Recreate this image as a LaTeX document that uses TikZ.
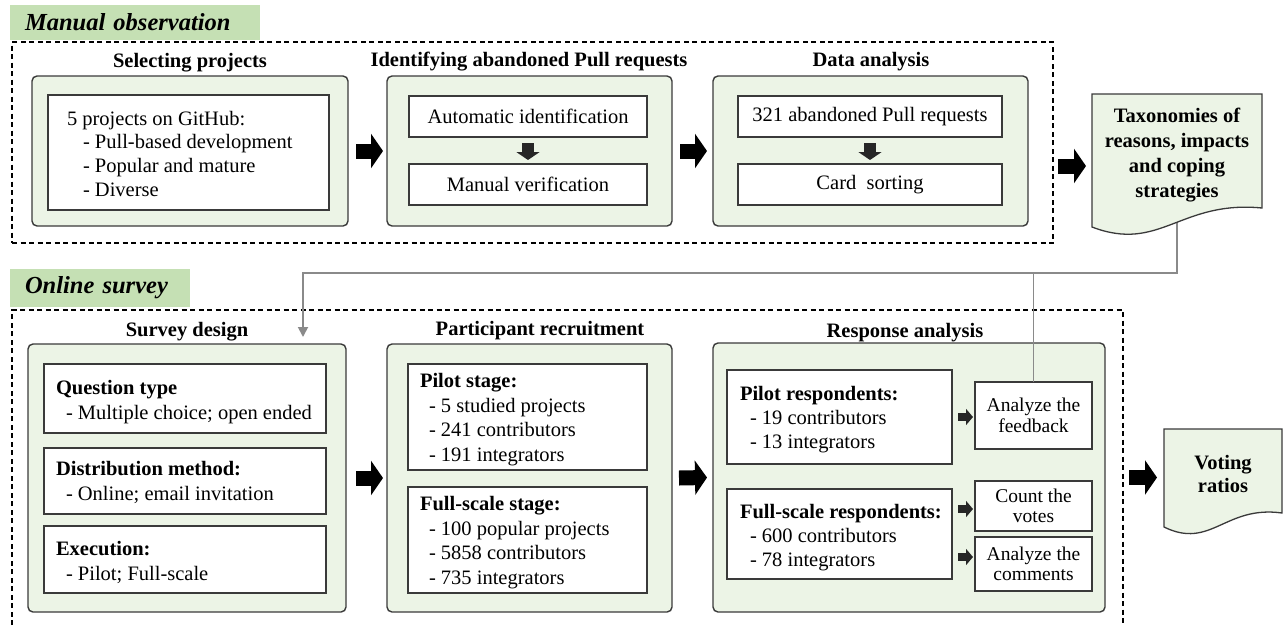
\documentclass[tikz,border=0pt]{standalone}
\usepackage{fontspec}
\setmainfont{Liberation Serif}
\usetikzlibrary{arrows.meta,calc}
\definecolor{labelgreen}{HTML}{C5E0B4}
\definecolor{panelfill}{HTML}{ECF4E6}
\definecolor{panelline}{HTML}{3A3A3A}
\definecolor{feedgray}{HTML}{8A8A8A}
\definecolor{smallarr}{HTML}{262626}
% fixed-height strut so the first baseline of a text block sits 16pt below its top
\newcommand{\firstline}{\rule{0pt}{16pt}}

\begin{document}
\begin{tikzpicture}[x=1pt,y=-1pt,
  every node/.style={inner sep=0pt, outer sep=0pt},
  body/.style={font=\fontsize{20.5}{24}\selectfont},
  head/.style={font=\bfseries\fontsize{20.5}{24}\selectfont},
  block/.style={anchor=north west, align=left},
  sect/.style={font=\bfseries\itshape\fontsize{24.5}{28}\selectfont,
    fill=labelgreen, anchor=north west, align=left, inner xsep=15pt},
  dashframe/.style={draw=black, line width=1.2pt, dash pattern=on 5pt off 3.5pt},
  panel/.style={draw=panelline, fill=panelfill, line width=1.4pt,
    rounded corners=5pt, anchor=north west},
  wbox/.style={draw=panelline, fill=white, line width=1.3pt, anchor=north west},
  bigarrow/.style={draw=black, line width=15pt, -{Triangle[length=12pt,width=34pt]}},
  smarr/.style={draw=smallarr, line width=8pt, -{Triangle[length=7pt,width=16pt]}},
  downarr/.style={draw=smallarr, line width=12pt, -{Triangle[length=8pt,width=23pt]}},
  feed/.style={draw=feedgray, line width=1.8pt},
  doc/.style={draw=panelline, fill=panelfill, line width=1.3pt},
]
\useasboundingbox (0,0) rectangle (1283,625);

% ---------------- Manual observation ----------------
\node[sect, text width=220pt, minimum height=35pt] (lblA) at (10,5) {Manual observation};
\node[dashframe, anchor=north west, minimum width=1041pt, minimum height=201pt] (mo) at (12,42) {};

\node[panel, minimum width=316pt, minimum height=150pt] (sel) at (32,76) {};
\node[panel, minimum width=285pt, minimum height=150pt] (ident) at (387,76) {};
\node[panel, minimum width=315pt, minimum height=150pt] (data) at (713,76) {};

\node[head] (selT) at (190,63) {Selecting projects};
\node[head] (identT) at (529,62) {Identifying abandoned Pull requests};
\node[head] (dataT) at (871,62) {Data analysis};

\node[wbox, minimum width=281pt, minimum height=115pt] (sp) at (48,95) {};
\node[body, block, font=\fontsize{20.5}{23.7}\selectfont] (sptxt) at (67,109)
  {\firstline 5 projects on GitHub:\\\hspace*{16pt}- Pull-based development\\\hspace*{16pt}- Popular and mature\\\hspace*{16pt}- Diverse};

\node[wbox, body, minimum width=238pt, minimum height=41pt] (auto) at (409,96) {Automatic identification};
\node[wbox, body, minimum width=238pt, minimum height=41pt] (manu) at (409,164) {Manual verification};
\node[wbox, body, minimum width=264pt, minimum height=41pt] (n321) at (738,96) {321 abandoned Pull requests};
\node[wbox, body, minimum width=264pt, minimum height=41pt] (card) at (738,164) {Card~ sorting};

\draw[downarr] ($(auto.south)+(0,6)$) -- ($(manu.north)+(0,-4)$);
\draw[downarr] ($(n321.south)+(0,6)$) -- ($(card.north)+(0,-4)$);

\draw[bigarrow] ($(sel.east)+(8,0)$) -- ($(ident.west)+(-4,0)$);
\draw[bigarrow] ($(ident.east)+(8,0)$) -- ($(data.west)+(-6,0)$);

% ---------------- Online survey ----------------
\node[sect, text width=150pt, minimum height=38pt] (lblB) at (10,269) {Online survey};
\draw[dashframe] (12,625) -- (12,310) -- (1123,310) -- (1123,625);

\node[panel, minimum width=318pt, minimum height=268pt] (sd) at (28,344) {};
\node[panel, minimum width=285pt, minimum height=268pt] (pr) at (387,344) {};
\node[panel, minimum width=392pt, minimum height=269pt] (ra) at (713,343) {};

\node[head] (sdT) at (187,332) {Survey design};
\node[head] (prT) at (540,331) {Participant recruitment};
\node[head] (raT) at (905,333) {Response analysis};

% survey design
\node[wbox, minimum width=282pt, minimum height=69pt] (qt) at (44,364) {};
\node[wbox, minimum width=282pt, minimum height=66pt] (dm) at (44,448) {};
\node[wbox, minimum width=282pt, minimum height=67pt] (ex) at (44,526) {};
\node[body, block, font=\fontsize{20.5}{25.5}\selectfont] (qttxt) at (56,378)
  {\firstline\textbf{Question type}\\\hspace*{10pt}- Multiple choice; open ended};
\node[body, block, font=\fontsize{20.5}{25.5}\selectfont] (dmtxt) at (56,459)
  {\firstline\textbf{Distribution method:}\\\hspace*{10pt}- Online; email invitation};
\node[body, block, font=\fontsize{20.5}{25}\selectfont] (extxt) at (56,539)
  {\firstline\textbf{Execution:}\\\hspace*{10pt}- Pilot; Full-scale};

% participant recruitment
\node[wbox, minimum width=239pt, minimum height=106pt] (ps) at (408,364) {};
\node[wbox, minimum width=239pt, minimum height=106pt] (fs) at (408,487) {};
\node[body, block, font=\fontsize{20.5}{24.7}\selectfont] (pstxt) at (420,371.5)
  {\firstline\textbf{Pilot stage:}\\\hspace*{9pt}- 5 studied projects\\\hspace*{9pt}- 241 contributors\\\hspace*{9pt}- 191 integrators};
\node[body, block, font=\fontsize{20.5}{24.7}\selectfont] (fstxt) at (420,494.5)
  {\firstline\textbf{Full-scale stage:}\\\hspace*{9pt}- 100 popular projects\\\hspace*{9pt}- 5858 contributors\\\hspace*{9pt}- 735 integrators};

% response analysis
\node[wbox, minimum width=225pt, minimum height=94pt] (pil) at (727,370) {};
\node[wbox, minimum width=225pt, minimum height=90pt] (full) at (727,489) {};
\node[body, block] (piltxt) at (740,384)
  {\firstline\textbf{Pilot respondents:}\\\hspace*{10pt}- 19 contributors\\\hspace*{10pt}- 13 integrators};
\node[body, block] (fulltxt) at (740,502)
  {\firstline\textbf{Full-scale respondents:}\\\hspace*{10pt}- 600 contributors\\\hspace*{10pt}- 78 integrators};

\node[wbox, align=center, font=\fontsize{19.5}{20.5}\selectfont, minimum width=117pt, minimum height=67pt] (fbk) at (975,382) {Analyze the\\feedback};
\node[wbox, align=center, font=\fontsize{19.5}{20.5}\selectfont, minimum width=117pt, minimum height=50pt] (cnt) at (975,481) {Count the\\votes};
\node[wbox, align=center, font=\fontsize{19.5}{20.5}\selectfont, minimum width=117pt, minimum height=54pt] (com) at (975,537) {Analyze the\\comments};

\draw[smarr] ($(pil.east)+(6,0)$) -- ($(fbk.west |- pil.east)+(-2,0)$);
\draw[smarr] ($(full.east |- 0,509)+(6,0)$) -- ($(cnt.west |- 0,509)+(-2,0)$);
\draw[smarr] ($(full.east |- 0,557)+(6,0)$) -- ($(com.west |- 0,557)+(-2,0)$);

\draw[bigarrow] ($(sd.east)+(10,0)$) -- ($(pr.west)+(-4,0)$);
\draw[bigarrow] ($(pr.east)+(7,0)$) -- ($(ra.west)+(-6,0)$);

% ---------------- outputs and feedback ----------------
\coordinate (taxc) at (1177,155.5);
\coordinate (votec) at (1223,473.5);
\coordinate (bend) at (303,273);
\coordinate (sdin) at (303,337);

\draw[feed, -{Triangle[length=10pt,width=10pt]}] (taxc) |- (bend) -- (sdin);
\draw[feed] (fbk.north) -- (fbk.north |- bend);

\draw[bigarrow] ($(data.east |- taxc)+(30,10.5)$) -- ($(taxc)+(-91,10.5)$);
\draw[bigarrow] ($(ra.east)+(24,0)$) -- ($(ra.east -| votec)+(-66,0)$);

\draw[doc] ($(taxc)+(-85,-61.5)$) -- ($(taxc)+(85,-61.5)$) -- ($(taxc)+(85,52.5)$)
  .. controls ($(taxc)+(3,44.5)$) and ($(taxc)+(-17,97.5)$) .. ($(taxc)+(-85,71.5)$) -- cycle;
\node[head, align=center, font=\bfseries\fontsize{20.5}{25}\selectfont] (tax) at (taxc)
  {Taxonomies of\\reasons, impacts\\and coping\\strategies};

\draw[doc] ($(votec)+(-59,-44.5)$) -- ($(votec)+(59,-44.5)$) -- ($(votec)+(59,39.5)$)
  .. controls ($(votec)+(2,31.5)$) and ($(votec)+(-12,76.5)$) .. ($(votec)+(-59,53.5)$) -- cycle;
\node[head, align=center, font=\bfseries\fontsize{20.5}{23}\selectfont] (vote) at (votec)
  {Voting\\ratios};
\end{tikzpicture}
\end{document}
